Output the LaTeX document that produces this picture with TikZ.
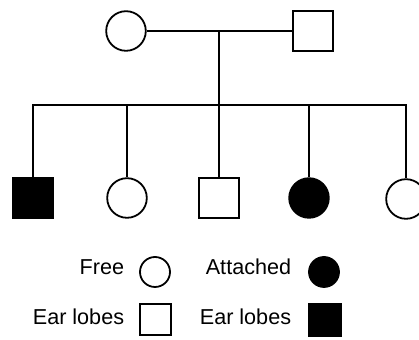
\documentclass[tikz,border=0pt]{standalone}
\usepackage{fontspec}
\setmainfont{Liberation Sans}
\usepackage{tikz}
\usetikzlibrary{positioning}

\begin{document}
\begin{tikzpicture}[
		x=0.5pt, y=-0.5pt,
		line width=0.9pt,
		girl/.style={draw, circle, minimum size=19.8pt, inner sep=0pt},
		boy/.style={draw, rectangle, minimum size=19.8pt, inner sep=0pt},
		keygirl/.style={draw, circle, minimum size=15pt, inner sep=0pt},
		keyboy/.style={draw, rectangle, minimum size=15.8pt, inner sep=0pt},
		keytext/.style={anchor=base east, inner sep=0pt, font=\fontsize{10.8}{13}\selectfont},
		attached/.style={fill=black}
		]
		\useasboundingbox (0,0) rectangle (419,340);
		\clip (0,0) rectangle (419,340);
		
		% Parents
		\node[girl] (mum) at (126,31) {};
		\node[boy] (dad) at (313,31) {};
		\coordinate (mate) at (219,31);
		\coordinate (bar) at (219,105);
		\draw (mum) -- (dad);
		\draw (mate) -- (bar);
		
		% Children
		\node[boy, attached] (kid1) at (33,198) {};
		\node[girl] (kid2) at (127,198) {};
		\node[boy] (kid3) at (219,198) {};
		\node[girl, attached] (kid4) at (309,198) {};
		\node[girl] (kid5) at (406,199) {};
		\draw (kid1.north) |- (bar) -| (kid5.north);
		\foreach \k in {2,3,4}
			\draw (kid\k |- bar) -- (kid\k);
		
		% Key
		\node[keytext] (free) at (125,275) {Free};
		\node[keygirl] (freesym) at (155,272) {};
		\node[keytext] (attach) at (292,275) {Attached};
		\node[keygirl, attached] (attachsym) at (324,272) {};
		\node[keytext] (lobesa) at (125,325) {Ear lobes};
		\node[keyboy] (lobesasym) at (155.5,319.5) {};
		\node[keytext] (lobesb) at (292,325) {Ear lobes};
		\node[keyboy, attached] (lobesbsym) at (325,320) {};
		
	\end{tikzpicture}
\end{document}
